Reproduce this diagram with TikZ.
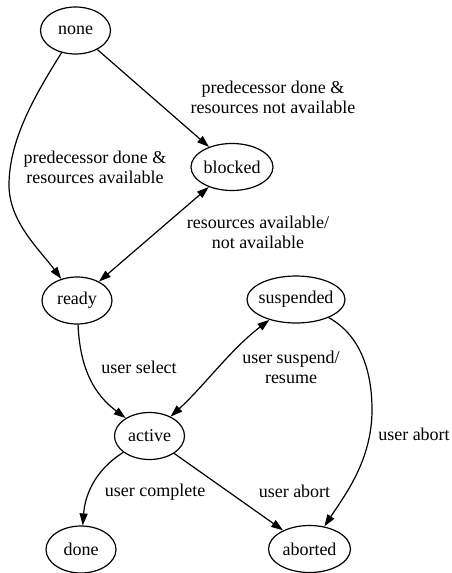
\documentclass[tikz,border=0pt]{standalone}
\usepackage{fontspec}
\setmainfont{Liberation Serif}
\usetikzlibrary{shapes.geometric,arrows.meta}

\tikzset{
  >={Triangle[length=12pt,width=8pt]},
  state/.style={ellipse, draw, line width=1.2pt, inner sep=0pt, minimum width=70pt, minimum height=47pt},
  edge/.style={line width=1.2pt},
  lbl/.style={align=center}
}

\begin{document}
\begin{tikzpicture}[x=1pt,y=-1pt,font=\fontsize{18}{20}\selectfont]
            \useasboundingbox (0,0) rectangle (452,573);

            % States
            \node[state] (none) at (75.5,30.5) {none};
            \node[state, minimum width=82pt] (blocked) at (232,167) {blocked};
            \node[state] (ready) at (77,300.5) {ready};
            \node[state, minimum width=98pt, inner xsep=-3pt] (suspended) at (296,299.5) {suspended};
            \node[state] (active) at (149.5,436) {active};
            \node[state] (done) at (81,549.5) {done};
            \node[state, minimum width=81pt, inner xsep=2pt] (aborted) at (309.5,549) {aborted};

            % Transitions
            \draw[edge,->] (none) .. controls (35,95) and (9,140) .. (9,185)
                .. controls (9,222) and (40,250) .. (ready);
            \draw[edge,->] (none) -- (blocked);
            \draw[edge,<->] (blocked) -- (ready);
            \draw[edge,->] (ready) .. controls (80,370) and (95,395) .. (active);
            \draw[edge,<->] (active) .. controls (205,385) and (230,350) .. (suspended);
            \draw[edge,->] (suspended) .. controls (360,335) and (372,370) .. (372,410)
                .. controls (372,460) and (345,495) .. (aborted);
            \draw[edge,->] (active) .. controls (95,470) and (85,495) .. (done);
            \draw[edge,->] (active) -- (aborted);

            % Labels
            \node[lbl] (predNotAvail) at (273,97) {predecessor done \&\\resources not available};
            \node[lbl] (predAvail) at (95,167) {predecessor done \&\\resources available};
            \node[lbl] (resToggle) at (258,232) {resources available/\\not available};
            \node[lbl] (userSelect) at (139,367) {user select};
            \node[lbl] (userSuspend) at (291,367) {user suspend/\\resume};
            \node[lbl] (userAbortS) at (414,434) {user abort};
            \node[lbl] (userComplete) at (155,492) {user complete};
            \node[lbl] (userAbortA) at (294.5,491) {user abort};

        \end{tikzpicture}
\end{document}
